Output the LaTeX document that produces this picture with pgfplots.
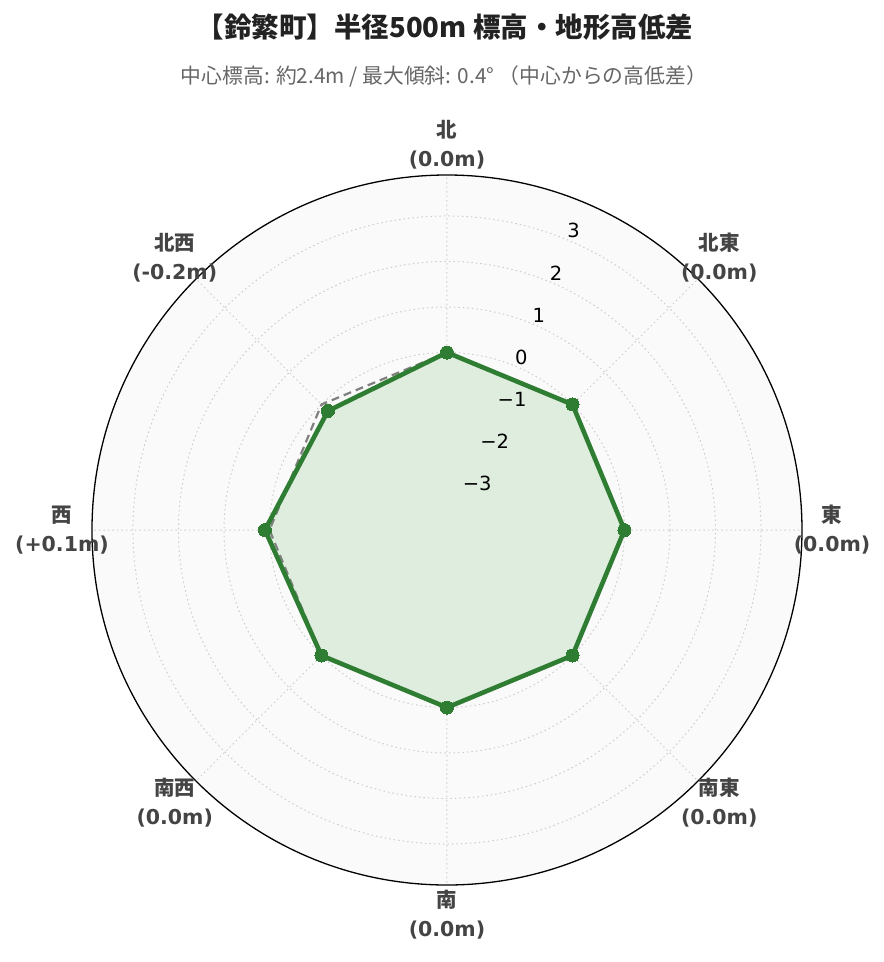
\documentclass[border=0pt]{standalone}
\usepackage{fontspec}
\setmainfont{DejaVu Sans}
\newfontfamily\cjk{Noto Sans CJK JP}
\usepackage{pgfplots}
\pgfplotsset{compat=1.18}
\usepgfplotslibrary{polar}

\definecolor{lineGreen}{RGB}{46,125,50}
\definecolor{fillGreen}{RGB}{222,237,222}
\definecolor{bgGray}{RGB}{250,250,250}
\definecolor{gridGray}{RGB}{205,205,205}
\definecolor{labelGray}{RGB}{68,68,68}
\definecolor{subGray}{RGB}{102,102,102}

% direction, value (m)
\pgfplotstableread{
ang val
90  0.0
45  0.0
0   0.0
315 0.0
270 0.0
225 0.0
180 0.1
135 -0.2
90  0.0
}\elev

\pgfplotstableread{
ang val
90  0
45  0
0   0
315 0
270 0
225 0
180 0
135 0
90  0
}\zeroref

\newcommand{\dirlab}[2]{{\cjk\bfseries #1}\\{\bfseries #2}}

\begin{document}
\begin{tikzpicture}
\useasboundingbox (-447bp,-432bp) rectangle (437bp,530bp);
\begin{polaraxis}[
    at={(0,0)}, anchor=center,
    width=710bp, height=710bp, scale only axis,
    clip=false,
    xmin=0, xmax=360, ymin=0, ymax=7.8,
    xtick={0,45,...,315}, xticklabels={},
    ytick={0.9,1.9,2.9,3.9,4.9,5.9,6.9}, yticklabels={},
    grid=major,
    major grid style={gridGray, line width=1bp, dash pattern=on 1.5bp off 3bp},
    axis line style={black, line width=1.3bp},
    y axis line style={draw=none},
    tick style={draw=none},
    axis background/.style={fill=bgGray},
    y filter/.expression={y+3.9},
  ]
  \addplot[draw=none, fill=fillGreen] table[x=ang, y=val] {\elev};
  \addplot[gray, line width=2.2bp, dash pattern=on 8bp off 5bp] table[x=ang, y=val] {\zeroref};
  \addplot[lineGreen, line width=4.6bp, line join=round, mark=*, mark size=6.5bp,
    mark options={fill=lineGreen, draw=lineGreen, line width=0bp}] table[x=ang, y=val] {\elev};

  % radial tick labels
  \foreach \v/\t in {0.9/−3,1.9/−2,2.9/−1,3.9/0,4.9/1,5.9/2,6.9/3}{
    \edef\tmp{\noexpand\node[anchor=west, font=\noexpand\fontsize{19.5bp}{22bp}\noexpand\selectfont, inner sep=0pt, yshift=9bp]
      at (axis cs:67.5,\v) {\t};}\tmp
  }

  % direction labels
  \begin{scope}[every node/.style={align=center, text=labelGray, inner sep=0pt,
      font=\fontsize{20.5bp}{29bp}\selectfont}]
    \node at (axis cs:90,8.46)  {\dirlab{北}{(0.0m)}};
    \node at (axis cs:45,8.46)  {\dirlab{北東}{(0.0m)}};
    \node at (axis cs:0,8.46)   {\dirlab{東}{(0.0m)}};
    \node at (axis cs:315,8.46) {\dirlab{南東}{(0.0m)}};
    \node at (axis cs:270,8.46) {\dirlab{南}{(0.0m)}};
    \node at (axis cs:225,8.46) {\dirlab{南西}{(0.0m)}};
    \node at (axis cs:180,8.46) {\dirlab{西}{(+0.1m)}};
    \node at (axis cs:135,8.46) {\dirlab{北西}{(-0.2m)}};
  \end{scope}
\end{polaraxis}

\node[font=\cjk\bfseries\fontsize{27.5bp}{32bp}\selectfont, text={rgb,255:red,34;green,34;blue,34}]
  at (-2bp,503bp) {【鈴繁町】半径500m 標高・地形高低差};
\node[font=\cjk\fontsize{20.8bp}{24bp}\selectfont, text=subGray]
  at (-3bp,454bp) {中心標高: 約2.4m / 最大傾斜: 0.4° （中心からの高低差）};
\end{tikzpicture}
\end{document}
